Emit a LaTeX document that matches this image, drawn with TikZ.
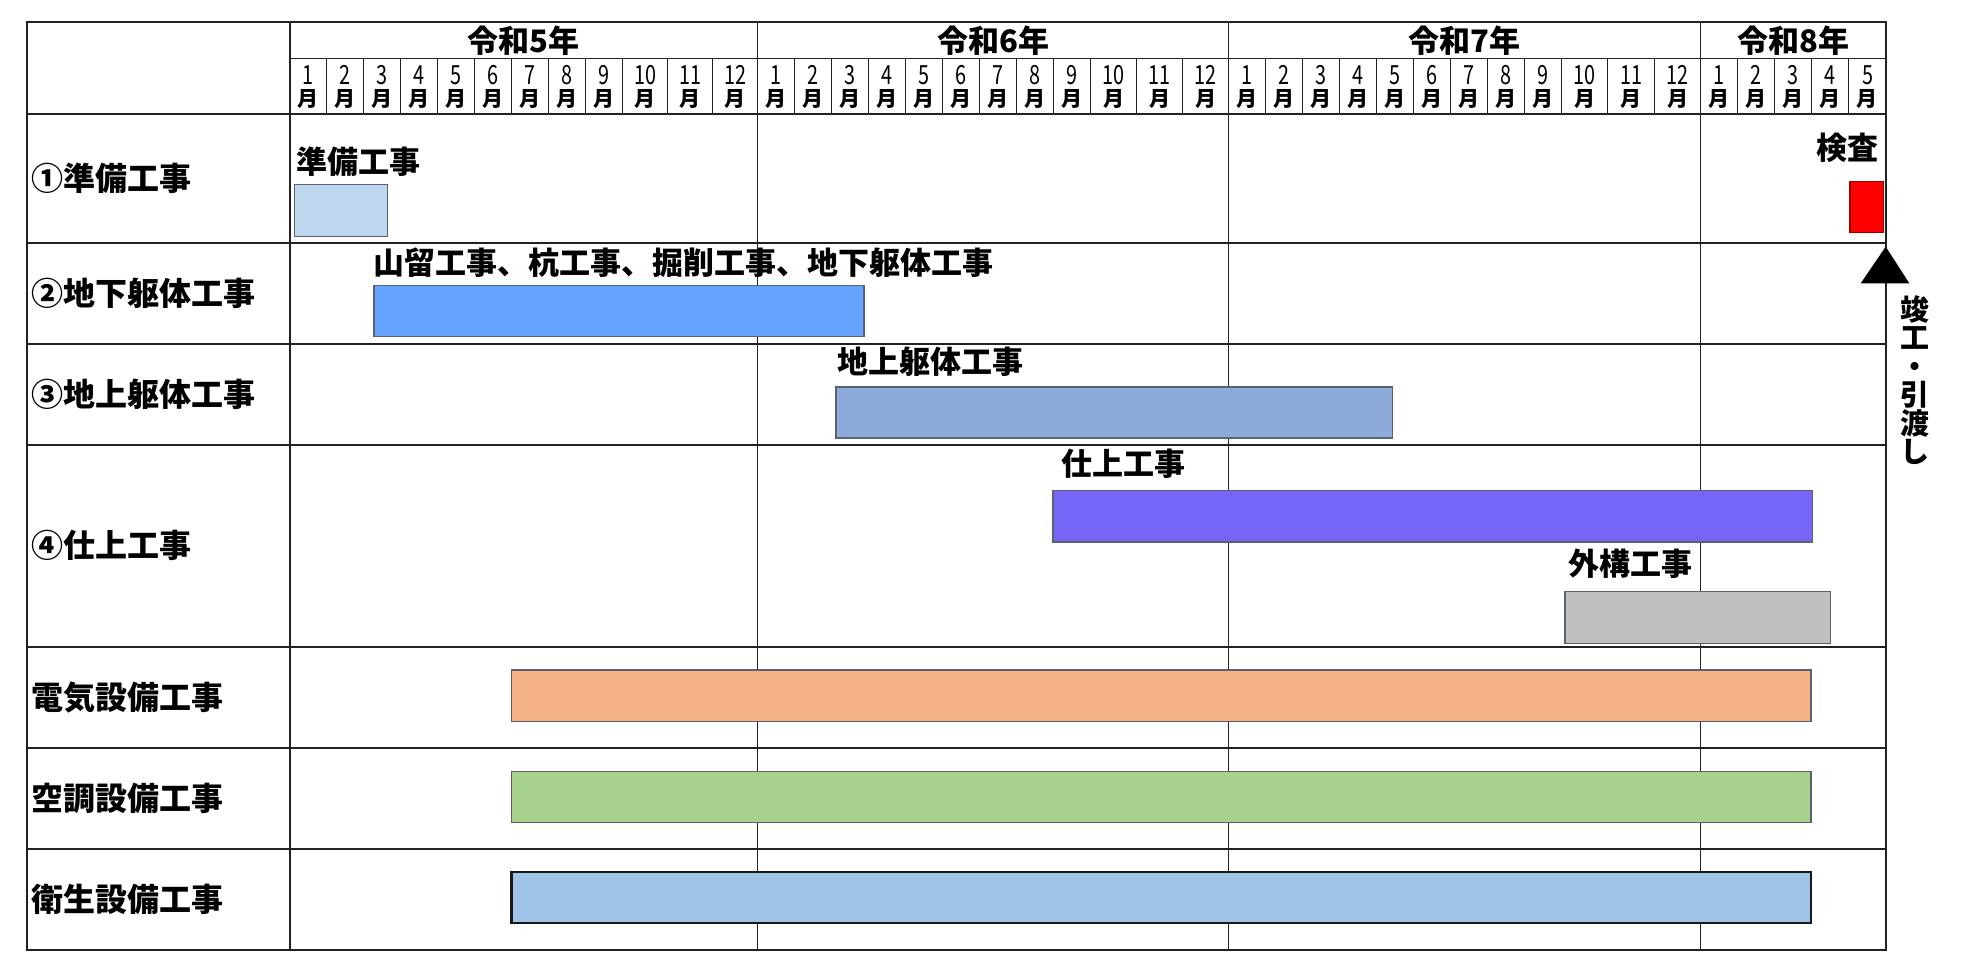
\documentclass[tikz,border=0pt]{standalone}
\usepackage{fontspec}
\usepackage{graphicx}
\setmainfont{Noto Sans CJK JP}
\definecolor{gridc}{HTML}{222222}
\definecolor{prepc}{HTML}{BDD7EE}
\definecolor{yamac}{HTML}{66A3FF}
\definecolor{chijoc}{HTML}{8EAADB}
\definecolor{shiagec}{HTML}{7566F7}
\definecolor{gaikoc}{HTML}{BFBFBF}
\definecolor{denkic}{HTML}{F4B183}
\definecolor{kuchoc}{HTML}{A9D18E}
\definecolor{eiseic}{HTML}{9DC3E6}
\definecolor{kensac}{HTML}{FF0000}
\definecolor{barline}{HTML}{5A6270}
\begin{document}
\begin{tikzpicture}[x=1pt,y=-1pt,
  gridline/.style={line width=1.8pt, draw=gridc},
  yearline/.style={line width=1.5pt, draw=gridc},
  mline/.style={line width=1pt, draw=gridc},
  bar/.style={line width=1.3pt, draw=barline},
  lbl/.style={font=\fontsize{32}{32}\selectfont\bfseries, inner sep=0pt, anchor=west},
  barlbl/.style={font=\fontsize{31}{31}\selectfont\bfseries, inner sep=0pt, anchor=west},
  yearlbl/.style={font=\fontsize{31}{31}\selectfont\bfseries, inner sep=0pt},
  digit/.style={font=\fontsize{22}{22}\selectfont, inner sep=0pt},
  tsuki/.style={font=\fontsize{21}{21}\selectfont\bfseries, inner sep=0pt},
  vtext/.style={font=\fontsize{29}{29}\selectfont\bfseries, inner sep=0pt, align=center}
]
\useasboundingbox (0,0) rectangle (1983,976);
\fill[white] (0,0) rectangle (1983,976);

% month dividers and labels
\foreach \s/\b/\yr in {289.8/44.97/5, 757.7/45.97/6, 1228.6/46.37/7} {
  \foreach \m in {1,...,12} {
    \pgfmathsetmacro\xl{\s + min(\m-1,9)*37 + max(\m-10,0)*\b}
    \pgfmathsetmacro\xr{\s + min(\m,9)*37 + max(\m-9,0)*\b}
    \pgfmathsetmacro\xc{(\xl+\xr)/2}
    \node[digit] (d\yr-\m) at (\xc,75) {\scalebox{0.9}[1.2]{\m}};
    \node[tsuki] (t\yr-\m) at (\xc,98.5) {月};
    \draw[mline] (\xr,58.5) -- (\xr,114);
  }
}
\foreach \m in {1,...,5} {
  \pgfmathsetmacro\xl{1700.7 + (\m-1)*37.06}
  \pgfmathsetmacro\xr{1700.7 + \m*37.06}
  \pgfmathsetmacro\xc{(\xl+\xr)/2}
  \node[digit] (d8-\m) at (\xc,75) {\scalebox{0.9}[1.2]{\m}};
  \node[tsuki] (t8-\m) at (\xc,98.5) {月};
  \draw[mline] (\xr,58.5) -- (\xr,114);
}

% grid
\draw[gridline] (27,22) rectangle (1886,950);
\draw[gridline] (289.8,22) -- (289.8,950);
\draw[gridline] (289.8,58.5) -- (1886,58.5);
\foreach \yy in {114,242.7,344,445,646.7,748.3,849.3} {
  \draw[gridline] (27,\yy) -- (1886,\yy);
}
\foreach \xx in {757.7,1228.6,1700.7} {
  \draw[yearline] (\xx,22) -- (\xx,950);
}

% year labels
\node[yearlbl] (y5) at (523.7,40.5) {令和5年};
\node[yearlbl] (y6) at (993.2,40.5) {令和6年};
\node[yearlbl] (y7) at (1464.6,40.5) {令和7年};
\node[yearlbl] (y8) at (1793.3,40.5) {令和8年};

% left labels
\node[lbl] (r1) at (31,178.3) {①準備工事};
\node[lbl] (r2) at (31,293.3) {②地下躯体工事};
\node[lbl] (r3) at (31,394.5) {③地上躯体工事};
\node[lbl] (r4) at (31,545.8) {④仕上工事};
\node[lbl] (r5) at (31,697.5) {電気設備工事};
\node[lbl] (r6) at (31,798.8) {空調設備工事};
\node[lbl] (r7) at (31,899.6) {衛生設備工事};

% bars
\draw[bar, fill=prepc] (294.8,184.5) rectangle (387.5,236.6);
\draw[bar, fill=yamac] (374,285.5) rectangle (864,336.5);
\draw[bar, fill=chijoc] (836,387) rectangle (1392.5,438);
\draw[bar, fill=shiagec] (1053,490.3) rectangle (1812.5,542);
\draw[bar, fill=gaikoc] (1565,591.7) rectangle (1830.7,643.3);
\draw[bar, fill=denkic] (511.5,670) rectangle (1811,721.7);
\draw[bar, fill=kuchoc] (511.5,771.5) rectangle (1811,822.3);
\draw[line width=2.2pt, draw=black!90, fill=eiseic] (511.5,871.7) rectangle (1811,922.7);
\draw[bar, draw=red!60!black, fill=kensac] (1850,181.7) rectangle (1883.3,232.7);

% bar labels
\node[barlbl] (b1) at (296,161.7) {準備工事};
\node[barlbl] (b2) at (373,262.5) {山留工事、杭工事、掘削工事、地下躯体工事};
\node[barlbl] (b3) at (837,362) {地上躯体工事};
\node[barlbl] (b4) at (1061,463.7) {仕上工事};
\node[barlbl] (b5) at (1568,564) {外構工事};
\node[barlbl, anchor=east] (b6) at (1879,147.5) {検査};

% completion marker
\coordinate (apex) at (1885.7,246.7);
\fill[black] (apex) -- ++(23.6,36.6) -- ++(-48.6,0) -- cycle;
\node[vtext] (kanko) at (1915,380) {竣\\[-0.5pt]工\\[-0.5pt]・\\[-0.5pt]引\\[-0.5pt]渡\\[-0.5pt]し};
\end{tikzpicture}
\end{document}
